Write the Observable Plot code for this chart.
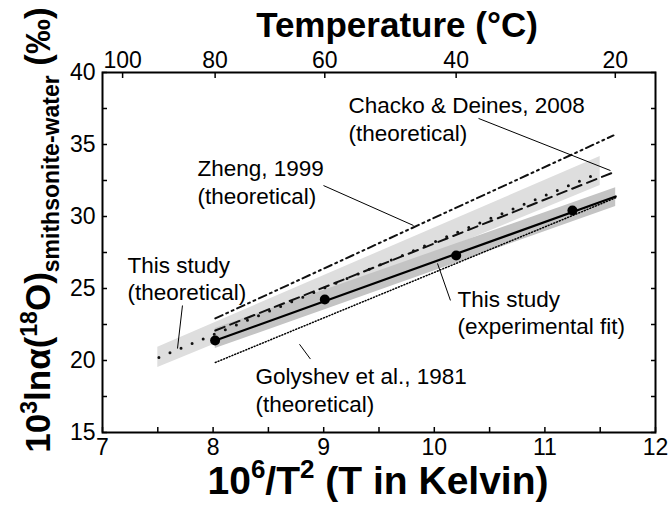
<!DOCTYPE html>
<html><head><meta charset="utf-8">
<script src="https://cdn.jsdelivr.net/npm/d3@7"></script>
<script src="https://cdn.jsdelivr.net/npm/@observablehq/plot@0.6"></script>
<style>
body{margin:0;background:#fff;}
#chart svg{display:block;}
</style>
</head><body><div id="chart"></div>
<script>
// ---- data ----
const tempTicksC = [100, 80, 60, 40, 20];
const xTicks = [7, 7.5, 8, 8.5, 9, 9.5, 10, 10.5, 11, 11.5, 12];
const yTicks = [15, 17.5, 20, 22.5, 25, 27.5, 30, 32.5, 35, 37.5, 40];

const expX = [8.018, 9.010, 10.198, 11.249];
const expY = [21.39, 24.24, 27.29, 30.42];

const fitX = [8.02, 11.64];    const fitY = [21.39, 31.39];
const zhengX = [8.02, 11.62];  const zhengY = [22.92, 35.63];
const chackoX = [8.02, 11.64]; const chackoY = [22.08, 33.13];
const theoX = [7.51, 11.50];   const theoY = [20.21, 33.06];
const golyX = [8.02, 11.64];   const golyY = [19.86, 31.30];

const theoBandX = [7.50, 11.50]; const theoBandLo = [19.51, 32.15]; const theoBandHi = [20.92, 34.17];
const fitBandX = [8.02, 11.64];  const fitBandLo = [20.83, 30.69];  const fitBandHi = [22.22, 32.00];

const labelText = ["Chacko & Deines, 2008\n(theoretical)", "Zheng, 1999\n(theoretical)", "This study\n(theoretical)", "This study\n(experimental fit)", "Golyshev et al., 1981\n(theoretical)"];
const labelX = [9.224, 7.859, 7.226, 10.21, 8.383];
const labelY = [36.81, 32.47, 25.76, 23.40, 17.99];
const leaderX1 = [10.40, 8.998, 7.723, 10.146, 8.781];
const leaderY1 = [36.81, 32.15, 23.82, 24.17, 21.13];
const leaderX2 = [11.593, 9.812, 7.678, 10.029, 8.880];
const leaderY2 = [33.19, 29.375, 20.83, 26.74, 20.10];

// ---- helpers ----
const pts = (xs, ys) => xs.map((x, i) => ({x, y: ys[i]}));
const band = (xs, lo, hi) => xs.map((x, i) => ({x, y1: lo[i], y2: hi[i]}));
const cToX = c => 1e6 / Math.pow(c + 273.15, 2);
const tempTickX = tempTicksC.map(cToX);
const tempLabel = new Map(tempTickX.map((x, i) => [x, String(tempTicksC[i])]));
const labels = labelText.map((t, i) => ({text: t, x: labelX[i], y: labelY[i]}));
const leaders = leaderX1.map((x1, i) => ({x1, y1: leaderY1[i], x2: leaderX2[i], y2: leaderY2[i]}));

const FONT = "Liberation Sans, Arial, Helvetica, sans-serif";

const chart = Plot.plot({
  width: 671, height: 505,
  marginLeft: 102, marginRight: 16, marginTop: 72, marginBottom: 73,
  x: {domain: [7, 12]},
  y: {domain: [15, 40]},
  style: {fontFamily: FONT, fontSize: "23px", color: "black", background: "white", overflow: "visible"},
  marks: [
    Plot.areaY(band(theoBandX, theoBandLo, theoBandHi), {x: "x", y1: "y1", y2: "y2", fill: "#dedede"}),
    Plot.areaY(band(fitBandX, fitBandLo, fitBandHi), {x: "x", y1: "y1", y2: "y2", fill: "#c4c4c4"}),
    Plot.line(pts(golyX, golyY), {x: "x", y: "y", stroke: "black", strokeWidth: 1.5, strokeDasharray: "1,2"}),
    Plot.line(pts(chackoX, chackoY), {x: "x", y: "y", stroke: "#111", strokeWidth: 2, strokeDasharray: "10,6"}),
    Plot.line(pts(theoX, theoY), {x: "x", y: "y", stroke: "#111", strokeWidth: 3, strokeDasharray: "0,12", strokeLinecap: "round"}),
    Plot.line(pts(zhengX, zhengY), {x: "x", y: "y", stroke: "#111", strokeWidth: 2, strokeDasharray: "8,4,2,4,2,4"}),
    Plot.line(pts(fitX, fitY), {x: "x", y: "y", stroke: "black", strokeWidth: 2.2}),
    Plot.dot(pts(expX, expY), {x: "x", y: "y", r: 5, fill: "black", stroke: "none"}),
    Plot.link(leaders, {x1: "x1", y1: "y1", x2: "x2", y2: "y2", stroke: "black", strokeWidth: 1}),
    Plot.text(labels, {x: "x", y: "y", text: "text", textAnchor: "start", lineAnchor: "middle", fontSize: 22.5, lineHeight: 1.23, fill: "black"}),
    Plot.axisX(xTicks, {anchor: "bottom", tickSize: -5, tickPadding: 11, strokeWidth: 1.5, fontSize: 23, label: null,
      tickFormat: d => Number.isInteger(d) ? String(d) : ""}),
    Plot.axisX(tempTickX, {anchor: "top", tickSize: -5, tickPadding: 10, strokeWidth: 1.5, fontSize: 23, label: null,
      tickFormat: d => tempLabel.get(d)}),
    Plot.axisY(yTicks, {anchor: "left", tickSize: -5, tickPadding: 12, strokeWidth: 1.5, fontSize: 23, label: null,
      tickFormat: d => Number.isInteger(d) && d % 5 === 0 ? String(d) : ""}),
    Plot.axisY(yTicks, {anchor: "right", tickSize: -5, tickPadding: 5, strokeWidth: 1.5, label: null, tickFormat: () => ""}),
    Plot.frame({stroke: "black", strokeWidth: 2})
  ]
});

document.getElementById("chart").appendChild(chart);

// ---- axis titles (real text with super/subscripts) ----
const svg = d3.select(chart);

svg.append("text")
  .attr("x", 397).attr("y", 37)
  .attr("text-anchor", "middle")
  .attr("font-family", FONT).attr("font-weight", "bold").attr("font-size", 35)
  .attr("fill", "black")
  .text("Temperature (°C)");

const xl = svg.append("text")
  .attr("x", 378).attr("y", 494)
  .attr("text-anchor", "middle")
  .attr("font-family", FONT).attr("font-weight", "bold").attr("font-size", 39)
  .attr("fill", "black");
xl.append("tspan").text("10");
xl.append("tspan").attr("font-size", 26).attr("dy", -16).text("6");
xl.append("tspan").attr("dy", 16).text("/T");
xl.append("tspan").attr("font-size", 26).attr("dy", -16).text("2");
xl.append("tspan").attr("dy", 16).text(" (T in Kelvin)");

const yl = svg.append("text")
  .attr("transform", "translate(50,230) rotate(-90)")
  .attr("text-anchor", "middle")
  .attr("font-family", FONT).attr("font-weight", "bold").attr("font-size", 35)
  .attr("fill", "black");
yl.append("tspan").text("10");
yl.append("tspan").attr("font-size", 23).attr("dy", -13).text("3");
yl.append("tspan").attr("dy", 13).text("ln\u03b1(");
yl.append("tspan").attr("font-size", 23).attr("dy", -13).text("18");
yl.append("tspan").attr("dy", 13).text("O)");
yl.append("tspan").attr("font-size", 23).attr("dy", 9).text("smithsonite-water");
yl.append("tspan").attr("dy", -9).text(" (\u2030)");
</script>
</body></html>
